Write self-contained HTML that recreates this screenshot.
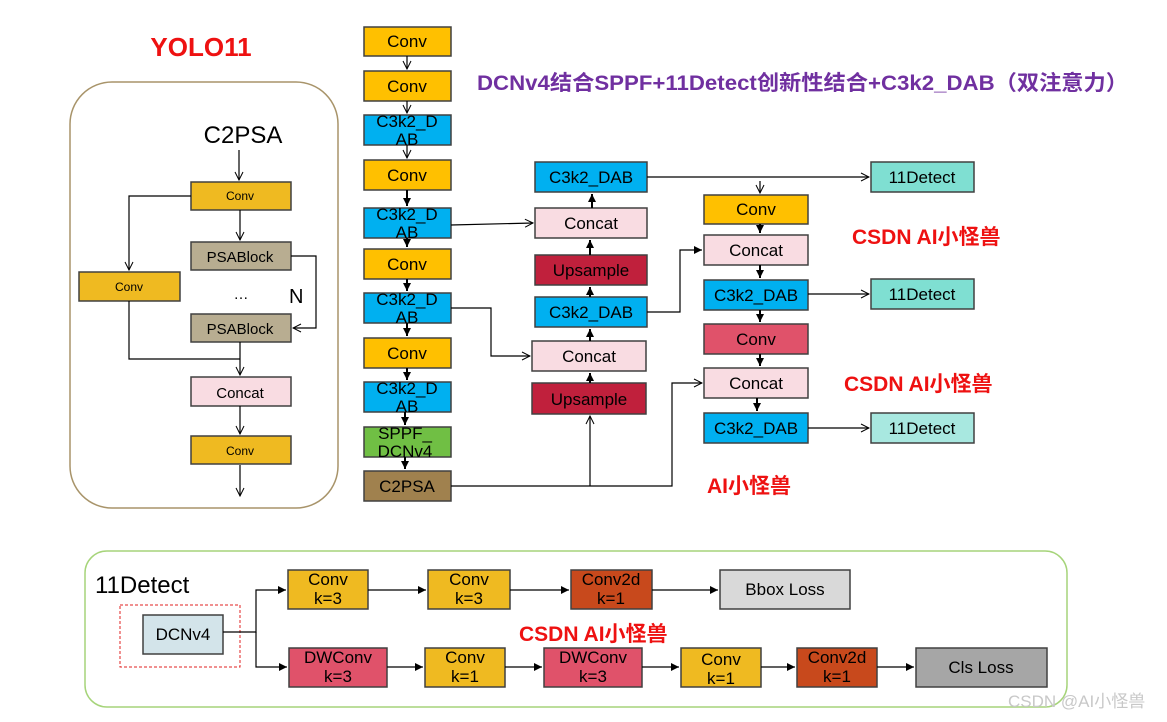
<!DOCTYPE html>
<html><head><meta charset="utf-8"><style>
html,body{margin:0;padding:0;background:#fff;}
svg{display:block;}
text{font-family:"Liberation Sans","Noto Sans CJK SC",sans-serif;}
</style></head><body>
<svg width="1167" height="722" viewBox="0 0 1167 722" xmlns="http://www.w3.org/2000/svg">
<defs>
<marker id="a" markerWidth="10" markerHeight="10" refX="9" refY="5" orient="auto" markerUnits="userSpaceOnUse"><path d="M1,1 L9,5 L1,9" fill="none" stroke="#000" stroke-width="1"/></marker>
<marker id="f" markerWidth="10" markerHeight="10" refX="9" refY="5" orient="auto" markerUnits="userSpaceOnUse"><path d="M1,1 L9,5 L1,9 Z" fill="#000"/></marker>
</defs>
<g stroke="#404040" stroke-width="1.5">
<rect x="70" y="82" width="268" height="426" rx="42" fill="none" stroke="#a8946a"/>
<rect x="191" y="182" width="100" height="28" fill="#efba21"/>
<rect x="191" y="242" width="100" height="28" fill="#b8ad91"/>
<rect x="79" y="272" width="101" height="29" fill="#efba21"/>
<rect x="191" y="314" width="100" height="28" fill="#b8ad91"/>
<rect x="191" y="377" width="100" height="29" fill="#f9dce2"/>
<rect x="191" y="436" width="100" height="28" fill="#efba21"/>
<rect x="364" y="27" width="87" height="29" fill="#ffc000"/>
<rect x="364" y="71" width="87" height="30" fill="#ffc000"/>
<rect x="364" y="115" width="87" height="30" fill="#00b0f0"/>
<rect x="364" y="160" width="87" height="30" fill="#ffc000"/>
<rect x="364" y="208" width="87" height="30" fill="#00b0f0"/>
<rect x="364" y="249" width="87" height="30" fill="#ffc000"/>
<rect x="364" y="293" width="87" height="30" fill="#00b0f0"/>
<rect x="364" y="338" width="87" height="30" fill="#ffc000"/>
<rect x="364" y="382" width="87" height="30" fill="#00b0f0"/>
<rect x="364" y="427" width="87" height="30" fill="#70bf44"/>
<rect x="364" y="471" width="87" height="30" fill="#a0814e"/>
<rect x="535" y="162" width="112" height="30" fill="#00b0f0"/>
<rect x="535" y="208" width="112" height="30" fill="#f9dce2"/>
<rect x="535" y="255" width="112" height="30" fill="#c0203c"/>
<rect x="535" y="297" width="112" height="30" fill="#00b0f0"/>
<rect x="532" y="341" width="114" height="30" fill="#f9dce2"/>
<rect x="532" y="383" width="114" height="31" fill="#c0203c"/>
<rect x="704" y="195" width="104" height="29" fill="#ffc000"/>
<rect x="704" y="235" width="104" height="30" fill="#f9dce2"/>
<rect x="704" y="280" width="104" height="30" fill="#00b0f0"/>
<rect x="704" y="324" width="104" height="30" fill="#e0526a"/>
<rect x="704" y="368" width="104" height="30" fill="#f9dce2"/>
<rect x="704" y="413" width="104" height="30" fill="#00b0f0"/>
<rect x="871" y="162" width="103" height="30" fill="#7fdfd2"/>
<rect x="871" y="279" width="103" height="30" fill="#7fdfd2"/>
<rect x="871" y="413" width="103" height="30" fill="#a8e8e0"/>
<rect x="85" y="551" width="982" height="156" rx="22" fill="none" stroke="#a6d47a"/>
<rect x="120" y="605" width="120" height="62" fill="none" stroke="#e02020" stroke-dasharray="3,2" stroke-width="1"/>
<rect x="143" y="615" width="80" height="39" fill="#d3e4ea"/>
<rect x="288" y="570" width="80" height="39" fill="#efba21"/>
<rect x="428" y="570" width="82" height="39" fill="#efba21"/>
<rect x="571" y="570" width="81" height="39" fill="#c8491c"/>
<rect x="720" y="570" width="130" height="39" fill="#d9d9d9"/>
<rect x="289" y="648" width="98" height="39" fill="#e0526a"/>
<rect x="425" y="648" width="80" height="39" fill="#efba21"/>
<rect x="544" y="648" width="98" height="39" fill="#e0526a"/>
<rect x="681" y="648" width="80" height="39" fill="#efba21"/>
<rect x="797" y="648" width="80" height="39" fill="#c8491c"/>
<rect x="916" y="648" width="131" height="39" fill="#a6a6a6"/>
</g>
<g stroke="#000" stroke-width="1.2" fill="none">
<path d="M239,150 V180" marker-end="url(#a)"/>
<path d="M240,210 V240" marker-end="url(#a)"/>
<path d="M191,196 H129 V270" marker-end="url(#a)"/>
<path d="M291,256 H316 V328 H293" marker-end="url(#a)"/>
<path d="M240,342 V375" marker-end="url(#a)"/>
<path d="M129,301 V359 H240"/>
<path d="M240,406 V434" marker-end="url(#a)"/>
<path d="M240,465 V496" marker-end="url(#a)"/>
<path d="M407,56 V69" marker-end="url(#a)"/>
<path d="M407,101 V113" marker-end="url(#a)"/>
<path d="M407,145 V158" marker-end="url(#a)"/>
<path d="M407,190 V206" marker-end="url(#f)" stroke-width="2"/>
<path d="M407,238 V247" marker-end="url(#f)" stroke-width="2"/>
<path d="M407,279 V291" marker-end="url(#f)" stroke-width="2"/>
<path d="M407,323 V336" marker-end="url(#f)" stroke-width="2"/>
<path d="M407,368 V380" marker-end="url(#f)" stroke-width="2"/>
<path d="M405,412 V425" marker-end="url(#f)" stroke-width="2"/>
<path d="M405,457 V469" marker-end="url(#f)" stroke-width="2"/>
<path d="M451,225 L533,223" marker-end="url(#a)"/>
<path d="M451,308 H491 V356 H530" marker-end="url(#a)"/>
<path d="M451,486 H672 V383 H702" marker-end="url(#a)"/>
<path d="M590,486 V416" marker-end="url(#a)"/>
<path d="M590,383 V373" marker-end="url(#f)" stroke-width="2"/>
<path d="M590,341 V329" marker-end="url(#f)" stroke-width="2"/>
<path d="M590,297 V287" marker-end="url(#f)" stroke-width="2"/>
<path d="M590,255 V240" marker-end="url(#f)" stroke-width="2"/>
<path d="M592,208 V194" marker-end="url(#f)" stroke-width="2"/>
<path d="M647,177 H869" marker-end="url(#a)"/>
<path d="M760,181 V193" marker-end="url(#a)"/>
<path d="M647,312 H680 V250 H702" marker-end="url(#f)"/>
<path d="M760,224 V233" marker-end="url(#f)" stroke-width="2"/>
<path d="M760,265 V278" marker-end="url(#f)" stroke-width="2"/>
<path d="M760,310 V322" marker-end="url(#f)" stroke-width="2"/>
<path d="M760,354 V366" marker-end="url(#f)" stroke-width="2"/>
<path d="M757,398 V411" marker-end="url(#f)" stroke-width="2"/>
<path d="M808,294 H869" marker-end="url(#a)"/>
<path d="M808,428 H869" marker-end="url(#a)"/>
<path d="M223,632 H256 V590 H286" marker-end="url(#f)"/>
<path d="M256,632 V667 H287" marker-end="url(#f)"/>
<path d="M368,590 H426" marker-end="url(#f)"/>
<path d="M510,590 H569" marker-end="url(#f)"/>
<path d="M652,590 H718" marker-end="url(#f)"/>
<path d="M387,667 H423" marker-end="url(#f)"/>
<path d="M505,667 H542" marker-end="url(#f)"/>
<path d="M642,667 H679" marker-end="url(#f)"/>
<path d="M761,667 H795" marker-end="url(#f)"/>
<path d="M877,667 H914" marker-end="url(#f)"/>
</g>
<g font-size="12" text-anchor="middle" fill="#000">
<text x="240" y="200">Conv</text>
<text x="129" y="291">Conv</text>
<text x="240" y="455">Conv</text>
</g>
<g font-size="15" text-anchor="middle" fill="#000">
<text x="240" y="262">PSABlock</text>
<text x="240" y="334">PSABlock</text>
<text x="240" y="398">Concat</text>
<text x="241" y="299">…</text>
</g>
<text x="289" y="303" font-size="20" fill="#000">N</text>
<text x="243" y="143" font-size="24" text-anchor="middle" fill="#000">C2PSA</text>
<text x="201" y="56" font-size="26" font-weight="bold" text-anchor="middle" fill="#ee1111">YOLO11</text>
<g font-size="17" text-anchor="middle" fill="#000">
<text x="407" y="47">Conv</text>
<text x="407" y="92">Conv</text>
<text x="407" y="127">C3k2_D</text><text x="407" y="145">AB</text>
<text x="407" y="181">Conv</text>
<text x="407" y="220">C3k2_D</text><text x="407" y="238">AB</text>
<text x="407" y="270">Conv</text>
<text x="407" y="305">C3k2_D</text><text x="407" y="323">AB</text>
<text x="407" y="359">Conv</text>
<text x="407" y="394">C3k2_D</text><text x="407" y="412">AB</text>
<text x="405" y="439">SPPF_</text><text x="405" y="457">DCNv4</text>
<text x="407" y="492">C2PSA</text>
<text x="591" y="183">C3k2_DAB</text>
<text x="591" y="229">Concat</text>
<text x="591" y="276">Upsample</text>
<text x="591" y="318">C3k2_DAB</text>
<text x="589" y="362">Concat</text>
<text x="589" y="405">Upsample</text>
<text x="756" y="215">Conv</text>
<text x="756" y="256">Concat</text>
<text x="756" y="301">C3k2_DAB</text>
<text x="756" y="345">Conv</text>
<text x="756" y="389">Concat</text>
<text x="756" y="434">C3k2_DAB</text>
<text x="922" y="183">11Detect</text>
<text x="922" y="300">11Detect</text>
<text x="922" y="434">11Detect</text>
</g>
<text x="477" y="90" font-size="21" font-weight="bold" fill="#7030a0" textLength="651" lengthAdjust="spacingAndGlyphs">DCNv4结合SPPF+11Detect创新性结合+C3k2_DAB（双注意力）</text>
<g font-size="21" font-weight="bold" fill="#ee1111">
<text x="852" y="244">CSDN AI小怪兽</text>
<text x="844" y="391">CSDN AI小怪兽</text>
<text x="707" y="493">AI小怪兽</text>
<text x="519" y="641">CSDN AI小怪兽</text>
</g>
<text x="95" y="593" font-size="24" fill="#000">11Detect</text>
<g font-size="17" text-anchor="middle" fill="#000">
<text x="183" y="640">DCNv4</text>
<text x="328" y="585">Conv</text><text x="328" y="604">k=3</text>
<text x="469" y="585">Conv</text><text x="469" y="604">k=3</text>
<text x="611" y="585">Conv2d</text><text x="611" y="604">k=1</text>
<text x="785" y="595">Bbox Loss</text>
<text x="338" y="663">DWConv</text><text x="338" y="682">k=3</text>
<text x="465" y="663">Conv</text><text x="465" y="682">k=1</text>
<text x="593" y="663">DWConv</text><text x="593" y="682">k=3</text>
<text x="721" y="665">Conv</text><text x="721" y="684">k=1</text>
<text x="837" y="663">Conv2d</text><text x="837" y="682">k=1</text>
<text x="981" y="673">Cls Loss</text>
</g>
<text x="1008" y="707" font-size="17" fill="#c8c8c8">CSDN @AI小怪兽</text>
</svg>
</body></html>
